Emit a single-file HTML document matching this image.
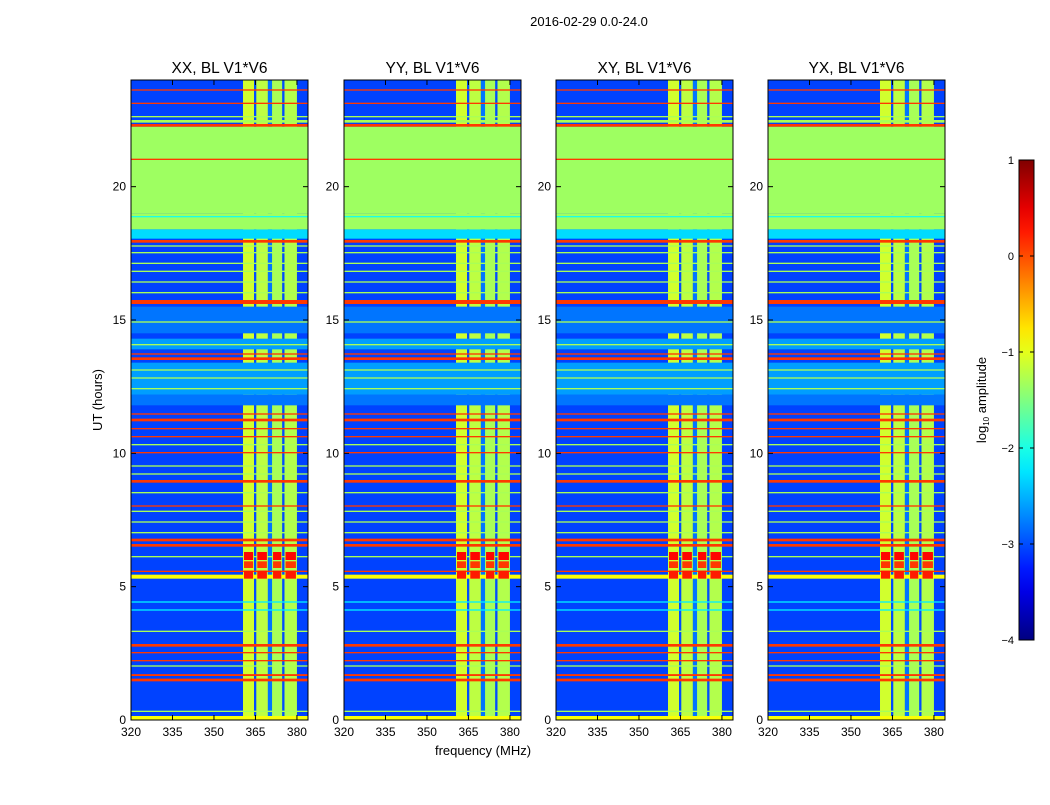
<!DOCTYPE html>
<html><head><meta charset="utf-8"><style>
body{margin:0;background:#fff;}
svg text{font-family:"Liberation Sans",sans-serif;fill:#000;}
</style></head><body>
<svg id="fig" width="1050" height="800" xmlns="http://www.w3.org/2000/svg">
<text x="589" y="26" font-size="13" text-anchor="middle">2016-02-29 0.0-24.0</text>
<text x="483" y="755" font-size="13" text-anchor="middle">frequency (MHz)</text>
<text transform="translate(102,400) rotate(-90)" font-size="13" text-anchor="middle">UT (hours)</text>
<defs><linearGradient id="jetg" x1="0" y1="1" x2="0" y2="0"></linearGradient></defs>
<g id="panels"></g>
<g id="cbar"></g>
</svg>
<script>
// ---- data ----
const panelTitles = ["XX, BL V1*V6","YY, BL V1*V6","XY, BL V1*V6","YX, BL V1*V6"];
const xTicks = [320,335,350,365,380];
const yTicks = [0,5,10,15,20];
const cbTicks = [1,0,-1,-2,-3,-4];
const baseValue = -3.05;
// time bands (hours) applied across all frequencies
const rowLo = [0,0.3,1.45,1.65,2.0,2.2,2.5,2.75,3.3,4.1,4.4,5.3,5.55,6.1,6.5,6.7,7.0,7.4,7.8,8.0,8.5,8.9,9.2,9.5,10.0,10.3,10.6,10.9,11.2,11.45,11.8,12.2,12.4,12.8,13.1,13.5,13.7,13.9,14.05,14.5,14.9,15.6,16.0,16.4,16.8,17.1,17.5,17.75,17.9,18.05,18.4,18.85,19.0,21.0,22.25,22.4,22.6,23.1,23.6];
const rowHi = [0.15,0.35,1.55,1.72,2.05,2.25,2.55,2.85,3.35,4.15,4.45,5.45,5.6,6.15,6.6,6.8,7.05,7.45,7.85,8.05,8.55,9.0,9.25,9.55,10.05,10.35,10.65,10.95,11.3,11.5,12.2,13.4,12.45,12.85,13.15,13.6,13.75,14.3,14.1,15.5,14.95,15.75,16.05,16.45,16.85,17.15,17.55,17.8,18.0,18.4,19.0,18.9,22.25,21.05,22.35,22.5,22.65,23.15,23.65];
const rowVal = [-0.9,-1.3,0.1,0.1,-1.3,0.1,0.1,0.1,-1.3,-2.2,-2.2,-0.9,0.1,-1.3,0.1,0.1,-1.3,-1.3,-1.3,0.1,-1.3,0.1,-1.3,-1.3,0.1,-1.3,0.1,0.1,0.1,0.1,-2.8,-2.6,-1.3,-1.3,-1.3,0.1,0.1,-2.6,-1.3,-2.8,-1.3,0.1,-1.3,-1.3,-1.3,-1.3,-1.3,-1.3,0.1,-2.3,-1.35,-2.0,-1.35,0.1,0.1,-1.3,-1.3,0.1,0.1];
// frequency bands (MHz)
const colLo = [360.5,364.5,365.3,369.5,371,374.7,375.5];
const colHi = [364.5,365.3,369.5,371,374.7,375.5,380];
const colVal = [-1.1,-3.0,-1.2,-2.8,-1.3,-3.0,-1.25];
// strong RFI block in bright columns
const blockLo = [5.3,5.7,6.0];
const blockHi = [5.6,5.95,6.3];
const blockVal = [0.25,0.1,0.35];

const NS="http://www.w3.org/2000/svg";
const vmin=-4,vmax=1;
function jet(v){let t=(v-vmin)/(vmax-vmin);t=Math.max(0,Math.min(1,t));
 const c=x=>Math.round(255*Math.max(0,Math.min(1,x)));
 return `rgb(${c(1.5-Math.abs(4*t-3))},${c(1.5-Math.abs(4*t-2))},${c(1.5-Math.abs(4*t-1))})`;}
function mk(tag,attrs,parent){const e=document.createElementNS(NS,tag);for(const k in attrs)e.setAttribute(k,attrs[k]);parent.appendChild(e);return e;}

const panelX=[131,344,556,768], PW=177, PT=80, PB=720;
const fmin=320,fmax=384,tmin=0,tmax=24;
const panels=document.getElementById('panels');
panelX.forEach((x0,p)=>{
 const xs=f=>x0+(f-fmin)/(fmax-fmin)*PW;
 const ys=h=>PB-(h-tmin)/(tmax-tmin)*(PB-PT);
 const g=mk('g',{},panels);
 
 
 const bg=mk('rect',{x:x0,y:PT,width:PW,height:PB-PT,fill:jet(baseValue)},g);
 
 
 colLo.forEach((lo,i)=>{const r=mk('rect',{x:xs(lo),y:PT,width:xs(colHi[i])-xs(lo),height:PB-PT,fill:jet(colVal[i])},g);
  
  });
 rowLo.forEach((lo,i)=>{const r=mk('rect',{x:x0,y:ys(rowHi[i]),width:PW,height:Math.max(1,ys(lo)-ys(rowHi[i])),fill:jet(rowVal[i])},g);
  
  });
 blockLo.forEach((lo,i)=>{colLo.forEach((cl,j)=>{if(colVal[j]<-1.5)return;
  const r=mk('rect',{x:xs(cl)+1,y:ys(blockHi[i]),width:xs(colHi[j])-xs(cl)-2,height:ys(lo)-ys(blockHi[i]),fill:jet(blockVal[i])},g);
  
  });});
 const fr=mk('rect',{x:x0,y:PT,width:PW,height:PB-PT,fill:'none',stroke:'#000','stroke-width':1},g);
 
 
 const t=mk('text',{x:x0+PW/2,y:PT-7,'font-size':15.5,'text-anchor':'middle'},g);t.textContent=panelTitles[p];
 
 
 xTicks.forEach(v=>{const X=xs(v);
  mk('line',{x1:X,x2:X,y1:PB,y2:PB-5,stroke:'#000'},g);mk('line',{x1:X,x2:X,y1:PT,y2:PT+5,stroke:'#000'},g);
  const l=mk('text',{x:X,y:PB+16,'font-size':12,'text-anchor':'middle'},g);l.textContent=v;
  
  });
 yTicks.forEach(v=>{const Y=ys(v);
  mk('line',{x1:x0,x2:x0+5,y1:Y,y2:Y,stroke:'#000'},g);mk('line',{x1:x0+PW,x2:x0+PW-5,y1:Y,y2:Y,stroke:'#000'},g);
  const l=mk('text',{x:x0-5,y:Y+4,'font-size':12,'text-anchor':'end'},g);l.textContent=v;
  
  });
});
// colorbar
const grad=document.getElementById('jetg');
for(let i=0;i<=20;i++){mk('stop',{offset:(i/20),'stop-color':jet(vmin+(vmax-vmin)*i/20)},grad);}
const cb=document.getElementById('cbar');
const cy=v=>640-(v-vmin)/(vmax-vmin)*480;
mk('rect',{x:1019,y:160,width:15,height:480,fill:'url(#jetg)',stroke:'#000','stroke-width':1},cb);
cbTicks.forEach(v=>{const Y=cy(v);
 mk('line',{x1:1019,x2:1023,y1:Y,y2:Y,stroke:'#000'},cb);mk('line',{x1:1034,x2:1030,y1:Y,y2:Y,stroke:'#000'},cb);
 const l=mk('text',{x:1014,y:Y+4,'font-size':11,'text-anchor':'end'},cb);l.textContent=v<0?'\u2212'+(-v):v;
 
 });
const cl=mk('text',{transform:'translate(986,400) rotate(-90)','font-size':13,'text-anchor':'middle'},cb);
cl.innerHTML='log<tspan font-size="8" dy="3">10</tspan><tspan dy="-3"> amplitude</tspan>';


</script>
</body></html>
